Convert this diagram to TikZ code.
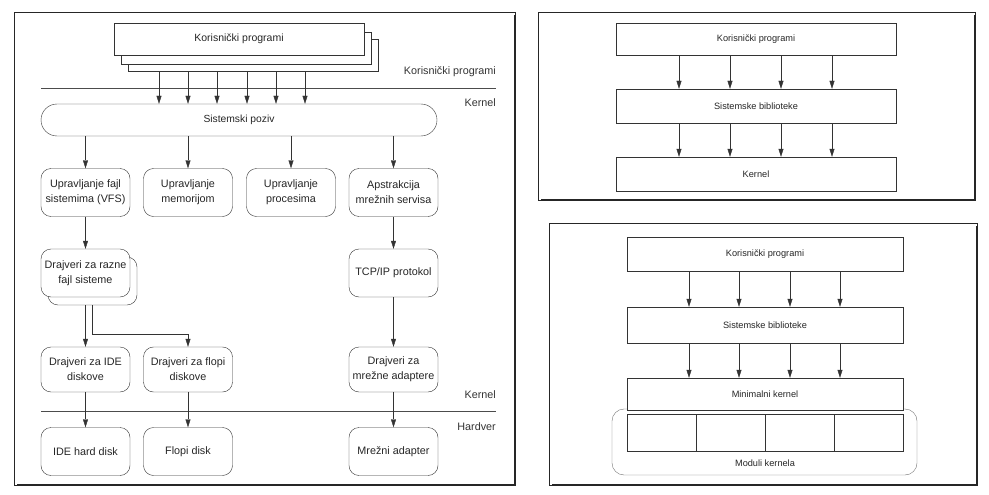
\documentclass[tikz,border=0pt]{standalone}
\usepackage{fontspec}
\setmainfont{Liberation Sans}
\usetikzlibrary{arrows.meta}

\begin{document}
\begin{tikzpicture}[x=1pt,y=-1pt,
  box/.style={draw=black!80,fill=white,minimum width=89pt,minimum height=48pt,rounded corners=10pt,align=center,inner sep=1pt,font=\fontsize{10.8}{15}\selectfont,text=black!85},
  sqbox/.style={draw=black!80,fill=white,minimum width=250pt,minimum height=32pt,font=\fontsize{10.5}{12}\selectfont,text=black!85},
  rbox/.style={draw=black!80,fill=white,minimum width=280pt,font=\fontsize{9.2}{11}\selectfont,text=black!85},
  arr/.style={draw=black!80,-{Triangle[length=8pt,width=5pt]}},
  lbl/.style={anchor=east,inner sep=0pt,font=\fontsize{10.8}{12}\selectfont,text=black!80},
  sep/.style={draw=black!70},
  frame/.style={draw=black!85,line width=0.6pt},
  shade/.style={draw=black!85,line width=2.4pt}]
\useasboundingbox (0,0) rectangle (989,495);

% levi okvir
\draw[frame] (14,12) rectangle (515,485);
\draw[shade] (17,485) -- (515,485) -- (515,15);

\node[sqbox] (prog3) at (253.5,55) {};
\node[sqbox] (prog2) at (246.5,48.5) {};
\node[sqbox] (prog) at (239,39) {Korisnički programi};
\node[lbl] (lkor) at (496,72) {Korisnički programi};
\draw[sep] (41,88) -- (496,88);
\node[lbl] (lker) at (496,103) {Kernel};

\node[box,minimum width=396pt,minimum height=32pt,rounded corners=16pt,font=\fontsize{10.3}{12}\selectfont] (sys) at (239,120) {Sistemski poziv};
\foreach \x in {159,188,217,247,276,305}
  \draw[arr] (prog3.south -| \x,0) -- (sys.north -| \x,0);

\node[box] (vfs) at (85.5,192.5) {Upravljanje fajl\\sistemima (VFS)};
\node[box] (mem) at (188,192.5) {Upravljanje\\memorijom};
\node[box] (proc) at (291,192.5) {Upravljanje\\procesima};
\node[box] (net) at (393.5,192.5) {Apstrakcija\\mrežnih servisa};
\foreach \n in {vfs,mem,proc,net}
  \draw[arr] (sys.south -| \n) -- (\n);

\node[box] (fs2) at (92.5,281) {};
\node[box] (fs) at (85.5,273) {Drajveri za razne\\fajl sisteme};
\node[box] (tcp) at (393.5,273) {TCP/IP protokol};
\draw[arr] (vfs) -- (fs);
\draw[arr] (net) -- (tcp);

\node[box,minimum height=45pt] (ide) at (85.5,369.5) {Drajveri za IDE\\diskove};
\node[box,minimum height=45pt] (flp) at (188,369.5) {Drajveri za flopi\\diskove};
\node[box,minimum height=45pt] (nic) at (393.5,369.5) {Drajveri za\\mrežne adaptere};
\draw[arr] (fs2.south -| ide) -- (ide);
\draw[arr] (fs2.south) -- ++(0,29) -| (flp);
\draw[arr] (tcp) -- (nic);

\node[lbl] (lker2) at (496,395) {Kernel};
\draw[sep] (41,411) -- (496,411);
\node[lbl] (lhw) at (496,427) {Hardver};

\node[box] (hdd) at (85.5,451.5) {IDE hard disk};
\node[box] (fdd) at (188,451.5) {Flopi disk};
\node[box] (nad) at (393.5,451.5) {Mrežni adapter};
\draw[arr] (ide) -- (hdd);
\draw[arr] (flp) -- (fdd);
\draw[arr] (nic) -- (nad);

% desno gore
\draw[frame] (538,12) rectangle (975,200);
\draw[shade] (541,200) -- (975,200) -- (975,15);
\node[rbox,minimum height=32pt] (rkor) at (756,39) {Korisnički programi};
\node[rbox,minimum height=34pt] (rlib) at (756,106) {Sistemske biblioteke};
\node[rbox,minimum height=34pt] (rker) at (756,174) {Kernel};
\foreach \x in {679,730,781,832} {
  \draw[arr] (rkor.south -| \x,0) -- (rlib.north -| \x,0);
  \draw[arr] (rlib.south -| \x,0) -- (rker.north -| \x,0);
}

% desno dole
\draw[frame] (549,223) rectangle (977,485);
\draw[shade] (552,485) -- (977,485) -- (977,226);
\node[draw=black!55,rounded corners=12pt,minimum width=305pt,minimum height=66pt] (modout) at (764.5,442) {};
\node[rbox,minimum width=276pt,minimum height=34pt] (mkor) at (765,254) {Korisnički programi};
\node[rbox,minimum width=276pt,minimum height=36pt] (mlib) at (765,325) {Sistemske biblioteke};
\node[rbox,minimum width=276pt,minimum height=32pt] (mker) at (765,394) {Minimalni kernel};
\foreach \i in {0,...,3}
  \node[draw=black!80,minimum width=69pt,minimum height=37pt,inner sep=0pt] (mod\i) at (661.5+69*\i,432.5) {};
\node[font=\fontsize{9.2}{11}\selectfont,text=black!85] (modlbl) at (765,463) {Moduli kernela};
\foreach \x in {689,739,790,840} {
  \draw[arr] (mkor.south -| \x,0) -- (mlib.north -| \x,0);
  \draw[arr] (mlib.south -| \x,0) -- (mker.north -| \x,0);
}
\end{tikzpicture}
\end{document}
